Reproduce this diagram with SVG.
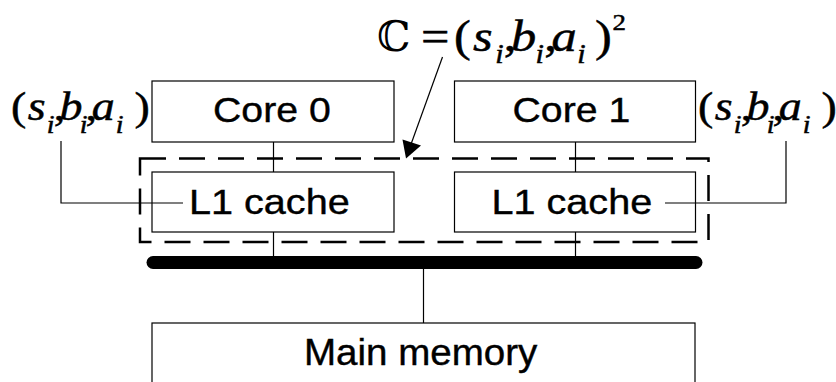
<svg xmlns="http://www.w3.org/2000/svg" width="836" height="382" viewBox="0 0 836 382">
  <style>
    .box { fill: none; stroke: #000000; stroke-width: 1.2; }
    .wire { fill: none; stroke: #000000; stroke-width: 1.2; }
    .lbl { font-family: "Liberation Sans", Arial, sans-serif; font-size: 36px; fill: #000000; stroke: #000000; stroke-width: 0.4px; }
    .math { font-family: "Liberation Serif", "Times New Roman", serif; fill: #000000; stroke: #000000; stroke-width: 0.5px; }
    .it { font-style: italic; }
  </style>

  <rect width="836" height="382" fill="#ffffff"/>

  <!-- dashed grouping of both L1 caches -->
  <g id="cache-group">
    <rect x="140" y="158.5" width="568.5" height="83.5" fill="none" stroke="#000000" stroke-width="2.5" stroke-dasharray="26 13"/>
  </g>

  <g id="core0">
    <rect class="box" x="152" y="81" width="242" height="61"/>
    <text class="lbl" transform="translate(213,122) scale(1.09,1)">Core 0</text>
  </g>
  <g id="core1">
    <rect class="box" x="454.5" y="81" width="241" height="61"/>
    <text class="lbl" transform="translate(512.5,122) scale(1.09,1)">Core 1</text>
  </g>
  <g id="l1-cache-0">
    <rect class="box" x="152" y="172" width="242" height="60"/>
    <text class="lbl" transform="translate(189,214) scale(1.1,1)">L1 cache</text>
  </g>
  <g id="l1-cache-1">
    <rect class="box" x="454.5" y="172" width="241" height="60"/>
    <text class="lbl" transform="translate(491.5,214) scale(1.1,1)">L1 cache</text>
  </g>
  <g id="main-memory">
    <rect class="box" x="152" y="323" width="543" height="80"/>
    <text class="lbl" transform="translate(304,365) scale(1.07,1)">Main memory</text>
  </g>

  <!-- connectors -->
  <g id="connectors">
    <line class="wire" x1="273.5" y1="142" x2="273.5" y2="172"/>
    <line class="wire" x1="273.5" y1="232" x2="273.5" y2="257"/>
    <line class="wire" x1="575.5" y1="142" x2="575.5" y2="172"/>
    <line class="wire" x1="575.5" y1="232" x2="575.5" y2="257"/>
    <line class="wire" x1="423.5" y1="268" x2="423.5" y2="323"/>
    <polyline class="wire" points="61,141 61,203 183,203"/>
    <polyline class="wire" points="786,141 786,203 665,203"/>
    <!-- system bus -->
    <line x1="153" y1="262.5" x2="696" y2="262.5" stroke="#000000" stroke-width="13" stroke-linecap="round"/>
    <!-- pointer from the combined configuration to the cache group -->
    <line x1="442.5" y1="57" x2="410" y2="147" stroke="#000000" stroke-width="1.2"/>
    <path d="M406,158.5 L402.5,139.5 L421,145.5 Z" fill="#000000"/>
  </g>

  <!-- per-core cache parameters (Times metrics, drawn slightly wide) -->
  <g id="params-left" transform="translate(11,0) scale(1.12,1) translate(-11,0)">
    <text class="math" font-size="41" y="120"><tspan x="11">(</tspan><tspan class="it" x="26">s</tspan><tspan class="it" x="43" y="133" font-size="25">i</tspan><tspan x="49.2" y="120">,</tspan><tspan class="it" x="54.3">b</tspan><tspan class="it" x="72.3" y="133" font-size="25">i</tspan><tspan x="77.5" y="120">,</tspan><tspan class="it" x="83">a</tspan><tspan class="it" x="104.6" y="133" font-size="25">i</tspan><tspan x="121.2" y="120">)</tspan></text>
  </g>
  <g id="params-right" transform="translate(698,0) scale(1.12,1) translate(-11,0)">
    <text class="math" font-size="41" y="120"><tspan x="11">(</tspan><tspan class="it" x="26">s</tspan><tspan class="it" x="43" y="133" font-size="25">i</tspan><tspan x="49.2" y="120">,</tspan><tspan class="it" x="54.3">b</tspan><tspan class="it" x="72.3" y="133" font-size="25">i</tspan><tspan x="77.5" y="120">,</tspan><tspan class="it" x="83">a</tspan><tspan class="it" x="104.6" y="133" font-size="25">i</tspan><tspan x="121.2" y="120">)</tspan></text>
  </g>

  <!-- combined configuration of the shared group -->
  <g id="params-combined">
    <text x="377" y="51" font-family="DejaVu Serif, DejaVu Sans, serif" font-size="42" fill="#000000">ℂ</text>
    <g transform="translate(454,0) scale(1.12,1) translate(-454,0)">
      <text class="math" font-size="45" y="51"><tspan x="424.5">=</tspan><tspan x="454">(</tspan><tspan class="it" x="471">s</tspan><tspan class="it" x="490.8" y="63" font-size="27">i</tspan><tspan x="498.4" y="51">,</tspan><tspan class="it" x="504.9">b</tspan><tspan class="it" x="526.8" y="63" font-size="27">i</tspan><tspan x="534.6" y="51">,</tspan><tspan class="it" x="541">a</tspan><tspan class="it" x="564" y="63" font-size="27">i</tspan><tspan x="580" y="51">)</tspan><tspan x="595.5" y="30" font-size="24">2</tspan></text>
    </g>
  </g>
</svg>
